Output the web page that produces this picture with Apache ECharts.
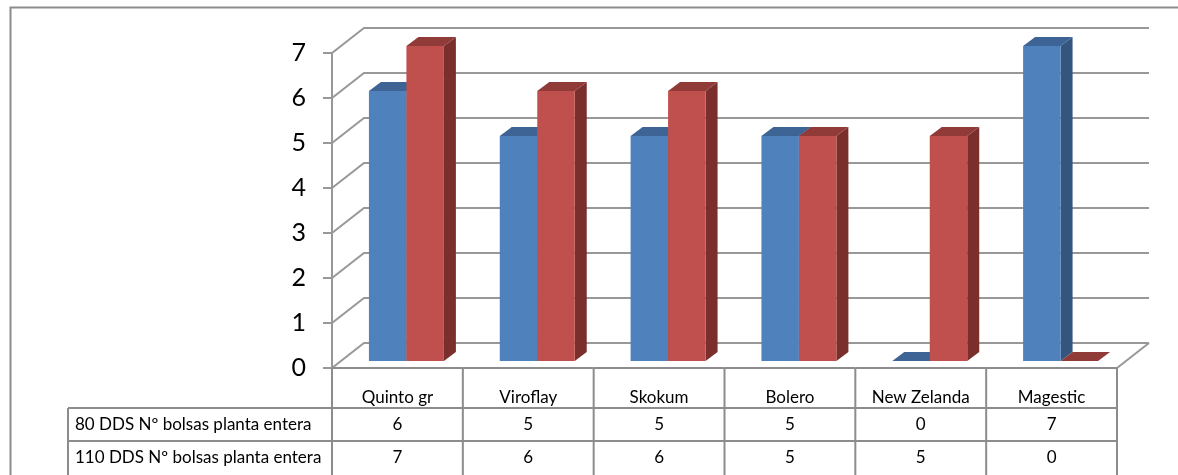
<!DOCTYPE html>
<html>
<head>
<meta charset="utf-8">
<script src="https://cdn.jsdelivr.net/npm/echarts@6/dist/echarts.min.js"></script>
<style>
html, body { margin: 0; padding: 0; background: #fff; }
#chart { width: 1178px; height: 475px; }
</style>
</head>
<body>
<div id="chart"></div>
<script>
var categories = ['Quinto gr', 'Viroflay', 'Skokum', 'Bolero', 'New Zelanda', 'Magestic'];
var seriesNames = ['80 DDS Nº bolsas planta entera', '110 DDS Nº bolsas planta entera'];
var dds80 = [6, 5, 5, 5, 0, 7];
var dds110 = [7, 6, 6, 5, 5, 0];
var yTicks = [0, 1, 2, 3, 4, 5, 6, 7];

var chart = echarts.init(document.getElementById('chart'));

// fake 3d: wall depth, bar offset inside the box, bar depth (px)
var WALL = [32, -25];
var BAR_SHIFT = [9, -7];
var BAR_DEPTH = [12, -9];
var BAR_FRAC = 0.2865;
var GRID_COL = '#989898';
var TABLE_COL = '#8c8c8c';
var FONT = 'Lato, "Open Sans", sans-serif';
var LABEL_LEFT = 68;
var ROWS = [40, 73, 120]; // row bottoms below the floor line

function barItem(colors, offset) {
  return function (params, api) {
    var i = api.value(0), v = api.value(1);
    var base = api.coord([i, 0]);
    var top = api.coord([i, v]);
    var bw = api.size([1, 0])[0] * BAR_FRAC;
    var x0 = base[0] + offset * bw + BAR_SHIFT[0];
    var x1 = x0 + bw;
    var yb = base[1] + BAR_SHIFT[1];
    var yt = top[1] + BAR_SHIFT[1];
    var dx = BAR_DEPTH[0], dy = BAR_DEPTH[1];
    return {
      type: 'group',
      children: [
        { type: 'polygon', shape: { points: [[x1, yb], [x1 + dx, yb + dy], [x1 + dx, yt + dy], [x1, yt]] }, style: { fill: colors[2] } },
        { type: 'polygon', shape: { points: [[x0, yt], [x1, yt], [x1 + dx, yt + dy], [x0 + dx, yt + dy]] }, style: { fill: colors[1] } },
        { type: 'rect', shape: { x: x0, y: yt, width: bw, height: yb - yt }, style: { fill: colors[0] } }
      ]
    };
  };
}

function wallItem(params, api) {
  var cs = params.coordSys;
  var y = api.coord([0, api.value(1)])[1];
  var kids = [{
    type: 'polyline',
    shape: { points: [[cs.x, y], [cs.x + WALL[0], y + WALL[1]], [cs.x + cs.width + WALL[0], y + WALL[1]]] },
    style: { stroke: GRID_COL, lineWidth: 2, fill: null }
  }];
  if (api.value(1) === 0) {
    kids.push({
      type: 'line',
      shape: { x1: cs.x + cs.width, y1: y, x2: cs.x + cs.width + WALL[0], y2: y + WALL[1] },
      style: { stroke: GRID_COL, lineWidth: 2 }
    });
  }
  return { type: 'group', children: kids };
}

function line(x1, y1, x2, y2) {
  return { type: 'line', shape: { x1: x1, y1: y1, x2: x2, y2: y2 }, style: { stroke: TABLE_COL, lineWidth: 2 } };
}
function cellText(x, y, s, align) {
  return {
    type: 'text', x: x, y: y,
    style: { text: s, fill: '#000', font: '17px ' + FONT, align: align || 'center', verticalAlign: 'middle' }
  };
}

function tableItem(params, api) {
  var i = api.value(0);
  var c = api.coord([i, 0]);
  var band = api.size([1, 0])[0];
  var x0 = c[0] - band / 2, x1 = c[0] + band / 2, y0 = c[1];
  var kids = [
    line(x0, y0, x1, y0),
    line(x0, y0, x0, y0 + ROWS[2]),
    line(x0, y0 + ROWS[0], x1, y0 + ROWS[0]),
    line(x0, y0 + ROWS[1], x1, y0 + ROWS[1]),
    cellText(c[0], y0 + 30, categories[i]),
    cellText(c[0], y0 + (ROWS[0] + ROWS[1]) / 2, String(dds80[i])),
    cellText(c[0], y0 + ROWS[1] + 17, String(dds110[i]))
  ];
  if (i === categories.length - 1) kids.push(line(x1, y0, x1, y0 + ROWS[2]));
  if (i === 0) {
    kids.push(line(LABEL_LEFT, y0 + ROWS[0], x0, y0 + ROWS[0]));
    kids.push(line(LABEL_LEFT, y0 + ROWS[1], x0, y0 + ROWS[1]));
    kids.push(line(LABEL_LEFT, y0 + ROWS[0], LABEL_LEFT, y0 + ROWS[2]));
    kids.push(cellText(LABEL_LEFT + 7, y0 + (ROWS[0] + ROWS[1]) / 2, seriesNames[0], 'left'));
    kids.push(cellText(LABEL_LEFT + 7, y0 + ROWS[1] + 17, seriesNames[1], 'left'));
  }
  return { type: 'group', children: kids };
}

var option = {
  animation: false,
  backgroundColor: '#fff',
  graphic: [{
    type: 'rect', left: 8, top: 5,
    shape: { width: 1250, height: 560 },
    style: { fill: null, stroke: TABLE_COL, lineWidth: 2 }
  }],
  grid: { left: 332, top: 53, width: 785, height: 315 },
  xAxis: {
    type: 'category', data: categories,
    axisLine: { show: false }, axisTick: { show: false }, axisLabel: { show: false }
  },
  yAxis: {
    type: 'value', min: 0, max: 7, interval: 1,
    axisLine: { show: true, lineStyle: { color: GRID_COL, width: 2 } },
    axisTick: { show: true, length: 9, lineStyle: { color: GRID_COL, width: 2 } },
    axisLabel: { fontSize: 25, color: '#000', margin: 26, fontFamily: FONT },
    splitLine: { show: false }
  },
  series: [
    { type: 'custom', name: 'walls', z: 1, clip: false, renderItem: wallItem, data: yTicks.map(function (v) { return [0, v]; }) },
    { type: 'custom', name: seriesNames[0], z: 2, clip: false, renderItem: barItem(['#4F81BD', '#3D6494', '#34557E'], -1), data: dds80.map(function (v, i) { return [i, v]; }) },
    { type: 'custom', name: seriesNames[1], z: 2, clip: false, renderItem: barItem(['#C0504D', '#913B39', '#7A2F2D'], 0), data: dds110.map(function (v, i) { return [i, v]; }) },
    { type: 'custom', name: 'table', z: 3, clip: false, renderItem: tableItem, data: categories.map(function (c, i) { return [i, 0]; }) }
  ]
};
chart.setOption(option);
</script>
</body>
</html>
